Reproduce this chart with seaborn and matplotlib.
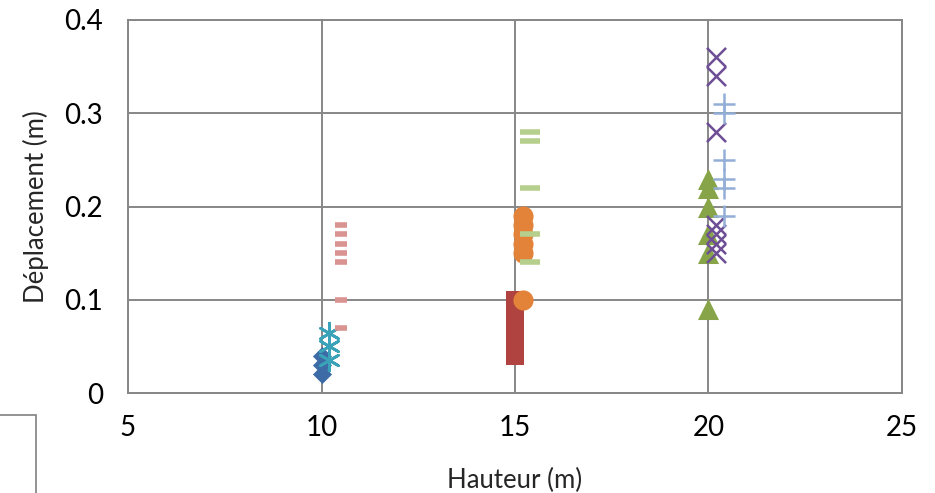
import matplotlib
matplotlib.use("Agg")
import matplotlib.pyplot as plt
import seaborn as sns
import pandas as pd
from matplotlib.patches import Rectangle

# ---- data ----
blue_diamond_x = 10.0
blue_diamond_y = [0.02, 0.03, 0.04]
teal_star_x = 10.2
teal_star_y = [0.035, 0.05, 0.064]
pink_dash_x = 10.5
pink_dash_y = [0.07, 0.10, 0.14, 0.15, 0.16, 0.17, 0.18]

red_square_x = 15.0
red_square_y = [0.04, 0.05, 0.06, 0.07, 0.08, 0.09, 0.10]
orange_circle_x = 15.2
orange_circle_y = [0.10, 0.15, 0.16, 0.17, 0.18, 0.19]
green_dash_x = 15.4
green_dash_y = [0.14, 0.17, 0.22, 0.27, 0.28]

green_tri_x = 20.0
green_tri_y = [0.09, 0.15, 0.17, 0.20, 0.22, 0.23]
purple_x_x = 20.2
purple_x_y = [0.15, 0.16, 0.17, 0.18, 0.28, 0.34, 0.36]
lightblue_plus_x = 20.4
lightblue_plus_y = [0.19, 0.22, 0.23, 0.25, 0.30, 0.31]

x_ticks = [5, 10, 15, 20, 25]
y_ticks = [0, 0.1, 0.2, 0.3, 0.4]
y_tick_labels = ["0", "0.1", "0.2", "0.3", "0.4"]

sns.set_style("white")
plt.rcParams["font.family"] = ["Lato", "DejaVu Sans"]

fig = plt.figure(figsize=(9.35, 4.93), dpi=100)
ax = fig.add_axes([128 / 935, 1 - 393 / 493, (902 - 128) / 935, (393 - 20) / 493])

grid_c = "#878787"
ax.set_xlim(5, 25)
ax.set_ylim(0, 0.4)
ax.set_xticks(x_ticks)
ax.set_yticks(y_ticks)
ax.set_yticklabels(y_tick_labels)
ax.grid(True, color=grid_c, linewidth=1.4)
ax.set_axisbelow(True)
for s in ax.spines.values():
    s.set_color(grid_c)
    s.set_linewidth(1.4)
ax.tick_params(axis="both", which="both", direction="out", length=5, width=1.2,
               color=grid_c, labelsize=20, colors="black")
ax.tick_params(axis="x", pad=11)
ax.tick_params(axis="y", pad=13)

def series(xv, yv):
    return pd.DataFrame({"x": [xv] * len(yv), "y": yv})

# filled markers
sns.scatterplot(data=series(red_square_x, red_square_y), x="x", y="y", ax=ax,
                marker="s", s=180, color="#B0423F", edgecolor="#B0423F", linewidth=0, zorder=3)
sns.scatterplot(data=series(blue_diamond_x, blue_diamond_y), x="x", y="y", ax=ax,
                marker="D", s=95, color="#3D6BA6", edgecolor="#3D6BA6", linewidth=0, zorder=3)
sns.scatterplot(data=series(green_tri_x, green_tri_y), x="x", y="y", ax=ax,
                marker="^", s=230, color="#87A548", edgecolor="#87A548", linewidth=0, zorder=3)
sns.scatterplot(data=series(orange_circle_x, orange_circle_y), x="x", y="y", ax=ax,
                marker="o", s=210, color="#E3833A", edgecolor="#E3833A", linewidth=0, zorder=4)
# line markers
sns.scatterplot(data=series(teal_star_x, teal_star_y), x="x", y="y", ax=ax,
                marker=(6, 2, 0), s=220, color="#3AA2B8", linewidth=2, zorder=4)
sns.scatterplot(data=series(purple_x_x, purple_x_y), x="x", y="y", ax=ax,
                marker="x", s=190, color="#6E4E95", linewidth=1.8, zorder=5)
sns.scatterplot(data=series(lightblue_plus_x, lightblue_plus_y), x="x", y="y", ax=ax,
                marker="+", s=230, color="#93AFD8", linewidth=1.8, zorder=5)
sns.scatterplot(data=series(pink_dash_x, pink_dash_y), x="x", y="y", ax=ax,
                marker="_", s=70, color="#D99391", linewidth=4, zorder=5)
sns.scatterplot(data=series(green_dash_x, green_dash_y), x="x", y="y", ax=ax,
                marker="_", s=210, color="#B6CF8D", linewidth=4, zorder=5)

ax.set_xlabel("Hauteur (m)", fontsize=18.5, labelpad=19)
ax.set_ylabel("Déplacement (m)", fontsize=18.5, labelpad=11)

# cut-off legend frame at bottom-left
fig.patches.append(Rectangle((-0.01, -0.01), 36 / 935 + 0.01, 1 - 415 / 493 + 0.01,
                             transform=fig.transFigure, fill=False,
                             edgecolor="#8a8a8a", linewidth=1.3))

fig.savefig("out.png", dpi=100)
